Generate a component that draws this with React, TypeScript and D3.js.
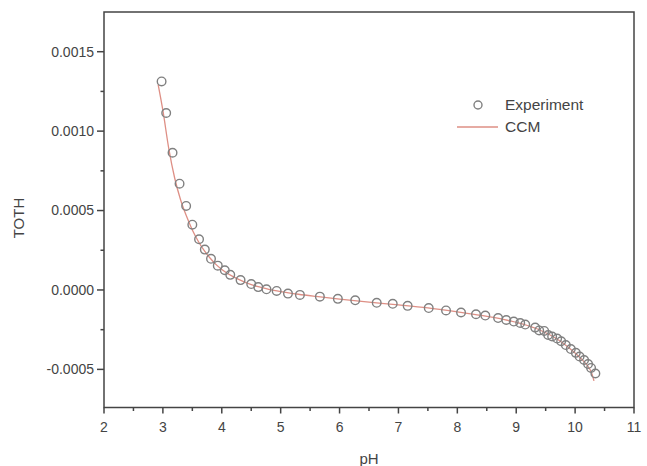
import React from "react";
import * as d3 from "d3";

// Measured TOTH vs pH (experiment)
const expPH = [
  2.978, 3.056, 3.164, 3.283, 3.395, 3.5, 3.614, 3.712, 3.817, 3.932, 4.051, 4.144,
  4.319, 4.5, 4.619, 4.759, 4.932, 5.124, 5.327, 5.666, 5.971, 6.266, 6.631, 6.903,
  7.156, 7.514, 7.808, 8.063, 8.317, 8.475, 8.692, 8.831, 8.958, 9.068, 9.153, 9.322,
  9.39, 9.475, 9.542, 9.61, 9.695, 9.763, 9.842, 9.927, 10.012, 10.076, 10.153, 10.22,
  10.271, 10.344,
];
const expTOTH = [
  0.001313, 0.001114, 0.000864, 0.000669, 0.000529, 0.000411, 0.000319, 0.000254,
  0.000196, 0.000153, 0.000124, 0.000095, 0.000062, 0.000037, 0.000018, 0.000004,
  -0.000006, -0.000023, -0.000031, -0.000042, -0.000056, -0.000065, -0.000081,
  -0.000087, -0.0001, -0.000114, -0.000129, -0.000142, -0.000153, -0.000161,
  -0.000177, -0.000189, -0.000199, -0.000208, -0.000218, -0.000237, -0.000255,
  -0.000258, -0.000284, -0.000293, -0.000306, -0.000323, -0.000347, -0.000372,
  -0.000396, -0.000419, -0.000441, -0.000466, -0.000491, -0.000526,
];

// Constant capacitance model fit
const ccmPH = [
  2.92, 3.0, 3.1, 3.2, 3.3, 3.4, 3.5, 3.6, 3.7, 3.8, 3.9, 4.0, 4.2, 4.4, 4.6, 4.8,
  5.0, 5.3, 5.6, 6.0, 6.5, 7.0, 7.5, 8.0, 8.4, 8.8, 9.1, 9.4, 9.7, 9.9, 10.1, 10.2,
  10.28, 10.32,
];
const ccmTOTH = [
  0.001292, 0.00113, 0.00089, 0.000705, 0.000568, 0.000465, 0.000378, 0.000307,
  0.000249, 0.000201, 0.000161, 0.000129, 0.000082, 0.000048, 0.000022, 0.000004,
  -0.00001, -0.000027, -0.000041, -0.000058, -0.000077, -0.000094, -0.000113,
  -0.000138, -0.00016, -0.000187, -0.000214, -0.000252, -0.00031, -0.000365,
  -0.000432, -0.000472, -0.000522, -0.000572,
];

const xTicks = [2, 3, 4, 5, 6, 7, 8, 9, 10, 11];
const xMinorTicks = [2.5, 3.5, 4.5, 5.5, 6.5, 7.5, 8.5, 9.5, 10.5];
const yTicks = [-0.0005, 0, 0.0005, 0.001, 0.0015];
const yMinorTicks = [-0.00025, 0.00025, 0.00075, 0.00125];
const yTickLabels = ["-0.0005", "0.0000", "0.0005", "0.0010", "0.0015"];

const W = 647;
const H = 466;
const left = 104;
const right = 634;
const top = 12;
const bottom = 407.5;

const font = "'Liberation Sans', Arial, Helvetica, sans-serif";
const axisColor = "#444";
const textColor = "#444";
const lineColor = "#de8f85";
const markColor = "#808080";

export default function App() {
  const x = d3.scaleLinear().domain([2, 11]).range([left, right]);
  const y = d3.scaleLinear().domain([-0.00074, 0.00175]).range([bottom, top]);

  const line = d3
    .line<number>()
    .x((_, i) => x(ccmPH[i]))
    .y((d) => y(d))
    .curve(d3.curveMonotoneX);

  return (
    <div style={{ position: "absolute", left: 0, top: 0 }}>
      <svg width={W} height={H} style={{ display: "block", background: "#fff" }}>
        {/* CCM curve */}
        <path d={line(ccmTOTH) || ""} fill="none" stroke={lineColor} strokeWidth={1.3} />

        {/* experimental points */}
        {expTOTH.map((v, i) => (
          <circle
            key={i}
            cx={x(expPH[i])}
            cy={y(v)}
            r={4.3}
            fill="none"
            stroke={markColor}
            strokeWidth={1.4}
          />
        ))}

        {/* frame */}
        <rect
          x={left}
          y={top}
          width={right - left}
          height={bottom - top}
          fill="none"
          stroke={axisColor}
          strokeWidth={1.5}
        />

        {/* x axis ticks */}
        {xTicks.map((t) => (
          <g key={"xt" + t}>
            <line x1={x(t)} x2={x(t)} y1={bottom} y2={bottom + 6} stroke={axisColor} strokeWidth={1.5} />
            <text
              x={x(t)}
              y={bottom + 24}
              textAnchor="middle"
              fontFamily={font}
              fontSize={14}
              fill={textColor}
            >
              {t}
            </text>
          </g>
        ))}
        {xMinorTicks.map((t) => (
          <line key={"xm" + t} x1={x(t)} x2={x(t)} y1={bottom} y2={bottom + 3.5} stroke={axisColor} strokeWidth={1.5} />
        ))}

        {/* y axis ticks */}
        {yTicks.map((t, i) => (
          <g key={"yt" + t}>
            <line x1={left - 7} x2={left} y1={y(t)} y2={y(t)} stroke={axisColor} strokeWidth={1.5} />
            <text
              x={left - 10}
              y={y(t)}
              dy="0.35em"
              textAnchor="end"
              fontFamily={font}
              fontSize={14}
              fill={textColor}
            >
              {yTickLabels[i]}
            </text>
          </g>
        ))}
        {yMinorTicks.map((t) => (
          <line key={"ym" + t} x1={left - 3.5} x2={left} y1={y(t)} y2={y(t)} stroke={axisColor} strokeWidth={1.5} />
        ))}

        {/* axis titles */}
        <text
          x={(left + right) / 2}
          y={459}
          dy="0.35em"
          textAnchor="middle"
          fontFamily={font}
          fontSize={15}
          fill={textColor}
        >
          pH
        </text>
        <text
          transform={`translate(19, 218) rotate(-90)`}
          dy="0.35em"
          textAnchor="middle"
          fontFamily={font}
          fontSize={15}
          fill={textColor}
        >
          TOTH
        </text>

        {/* legend */}
        <circle cx={478} cy={105} r={4} fill="none" stroke={markColor} strokeWidth={1.4} />
        <text x={505} y={105} dy="0.35em" fontFamily={font} fontSize={15.5} fill={textColor}>
          Experiment
        </text>
        <line x1={457} x2={498} y1={127} y2={127} stroke={lineColor} strokeWidth={1.3} />
        <text x={505} y={127} dy="0.35em" fontFamily={font} fontSize={15.5} fill={textColor}>
          CCM
        </text>
      </svg>
    </div>
  );
}
